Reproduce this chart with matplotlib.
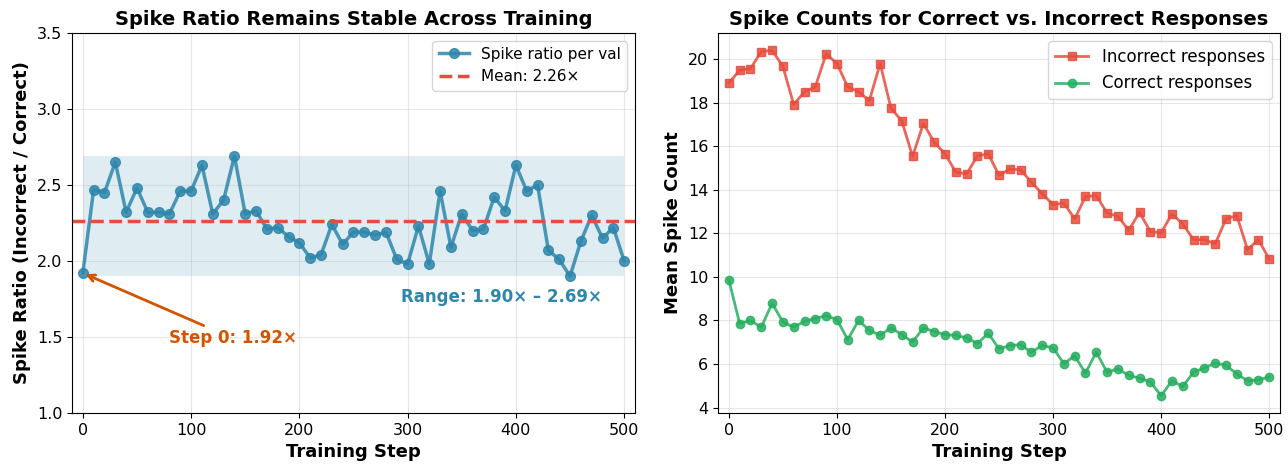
import numpy as np
import matplotlib
matplotlib.use("Agg")
import matplotlib.pyplot as plt

steps = list(range(0, 501, 10))

spike_ratio = [1.92, 2.47, 2.45, 2.65, 2.32, 2.48, 2.32, 2.32, 2.31, 2.46,
               2.46, 2.63, 2.31, 2.40, 2.69, 2.31, 2.33, 2.21, 2.22, 2.16,
               2.12, 2.02, 2.04, 2.24, 2.11, 2.19, 2.19, 2.17, 2.19, 2.01,
               1.98, 2.23, 1.98, 2.46, 2.09, 2.31, 2.20, 2.21, 2.42, 2.33,
               2.63, 2.46, 2.50, 2.07, 2.01, 1.90, 2.13, 2.30, 2.15, 2.22,
               2.00]

incorrect_counts = [18.90, 19.48, 19.56, 20.34, 20.40, 19.66, 17.91, 18.50, 18.72, 20.24,
                    19.79, 18.72, 18.50, 18.09, 19.79, 17.74, 17.16, 15.53, 17.04, 16.18,
                    15.65, 14.81, 14.73, 15.55, 15.65, 14.66, 14.95, 14.92, 14.34, 13.82,
                    13.31, 13.39, 12.66, 13.69, 13.73, 12.93, 12.78, 12.14, 12.96, 12.08,
                    12.02, 12.89, 12.43, 11.71, 11.71, 11.51, 12.66, 12.81, 11.25, 11.71,
                    10.82]

correct_counts = [9.86, 7.86, 8.00, 7.69, 8.79, 7.93, 7.69, 7.96, 8.09, 8.22,
                  8.04, 7.12, 8.00, 7.55, 7.32, 7.66, 7.35, 7.01, 7.66, 7.49,
                  7.35, 7.32, 7.20, 6.94, 7.41, 6.70, 6.85, 6.89, 6.54, 6.86,
                  6.74, 6.02, 6.38, 5.58, 6.55, 5.62, 5.78, 5.48, 5.35, 5.18,
                  4.55, 5.23, 4.97, 5.63, 5.82, 6.05, 5.94, 5.55, 5.23, 5.28,
                  5.40]

BLUE = "#2E86AB"
RED = "#E74C3C"
GREEN = "#27AE60"
ORANGE = "#D35400"

fig = plt.figure(figsize=(12.88, 4.65), dpi=100)
ax1 = fig.add_axes([0.0559, 0.112, 0.4371, 0.817])
ax2 = fig.add_axes([0.5575, 0.112, 0.4363, 0.817])

# Left panel
r = np.array(spike_ratio)
mean_r = r.mean()
ax1.fill_between(steps, r.min(), r.max(), color=BLUE, alpha=0.15, linewidth=0)
ax1.plot(steps, spike_ratio, marker="o", color=BLUE, linewidth=2.5, markersize=7,
         alpha=0.85, label="Spike ratio per val")
ax1.axhline(mean_r, color=RED, linestyle="--", linewidth=2.5,
            label=f"Mean: {mean_r:.2f}\u00d7")
ax1.annotate(f"Step 0: {spike_ratio[0]:.2f}\u00d7", xy=(steps[0], spike_ratio[0]),
             xytext=(80, 1.49), fontsize=12, fontweight="bold", color=ORANGE,
             ha="left", va="center",
             arrowprops=dict(arrowstyle="->", color=ORANGE, lw=2))
ax1.text(479, 1.76, f"Range: {r.min():.2f}\u00d7 \u2013 {r.max():.2f}\u00d7",
         fontsize=12, fontweight="bold", color=BLUE, ha="right", va="center")
ax1.set_xlim(-10, 510)
ax1.set_ylim(1.0, 3.5)
ax1.set_xlabel("Training Step", fontsize=13, fontweight="bold")
ax1.set_ylabel("Spike Ratio (Incorrect / Correct)", fontsize=13, fontweight="bold")
ax1.set_title("Spike Ratio Remains Stable Across Training", fontsize=14, fontweight="bold")
ax1.grid(True, alpha=0.3)
ax1.legend(loc="upper right", fontsize=11)
ax1.tick_params(labelsize=11.5)

# Right panel
ax2.plot(steps, incorrect_counts, marker="s", color=RED, linewidth=2, markersize=6,
         alpha=0.85, label="Incorrect responses")
ax2.plot(steps, correct_counts, marker="o", color=GREEN, linewidth=2, markersize=6,
         alpha=0.85, label="Correct responses")
ax2.set_xlim(-10, 510)
ax2.set_xlabel("Training Step", fontsize=13, fontweight="bold")
ax2.set_ylabel("Mean Spike Count", fontsize=13, fontweight="bold")
ax2.set_title("Spike Counts for Correct vs. Incorrect Responses", fontsize=14, fontweight="bold")
ax2.grid(True, alpha=0.3)
ax2.legend(loc="upper right", fontsize=12)
ax2.tick_params(labelsize=11.5)

fig.savefig("out.png", dpi=100)
